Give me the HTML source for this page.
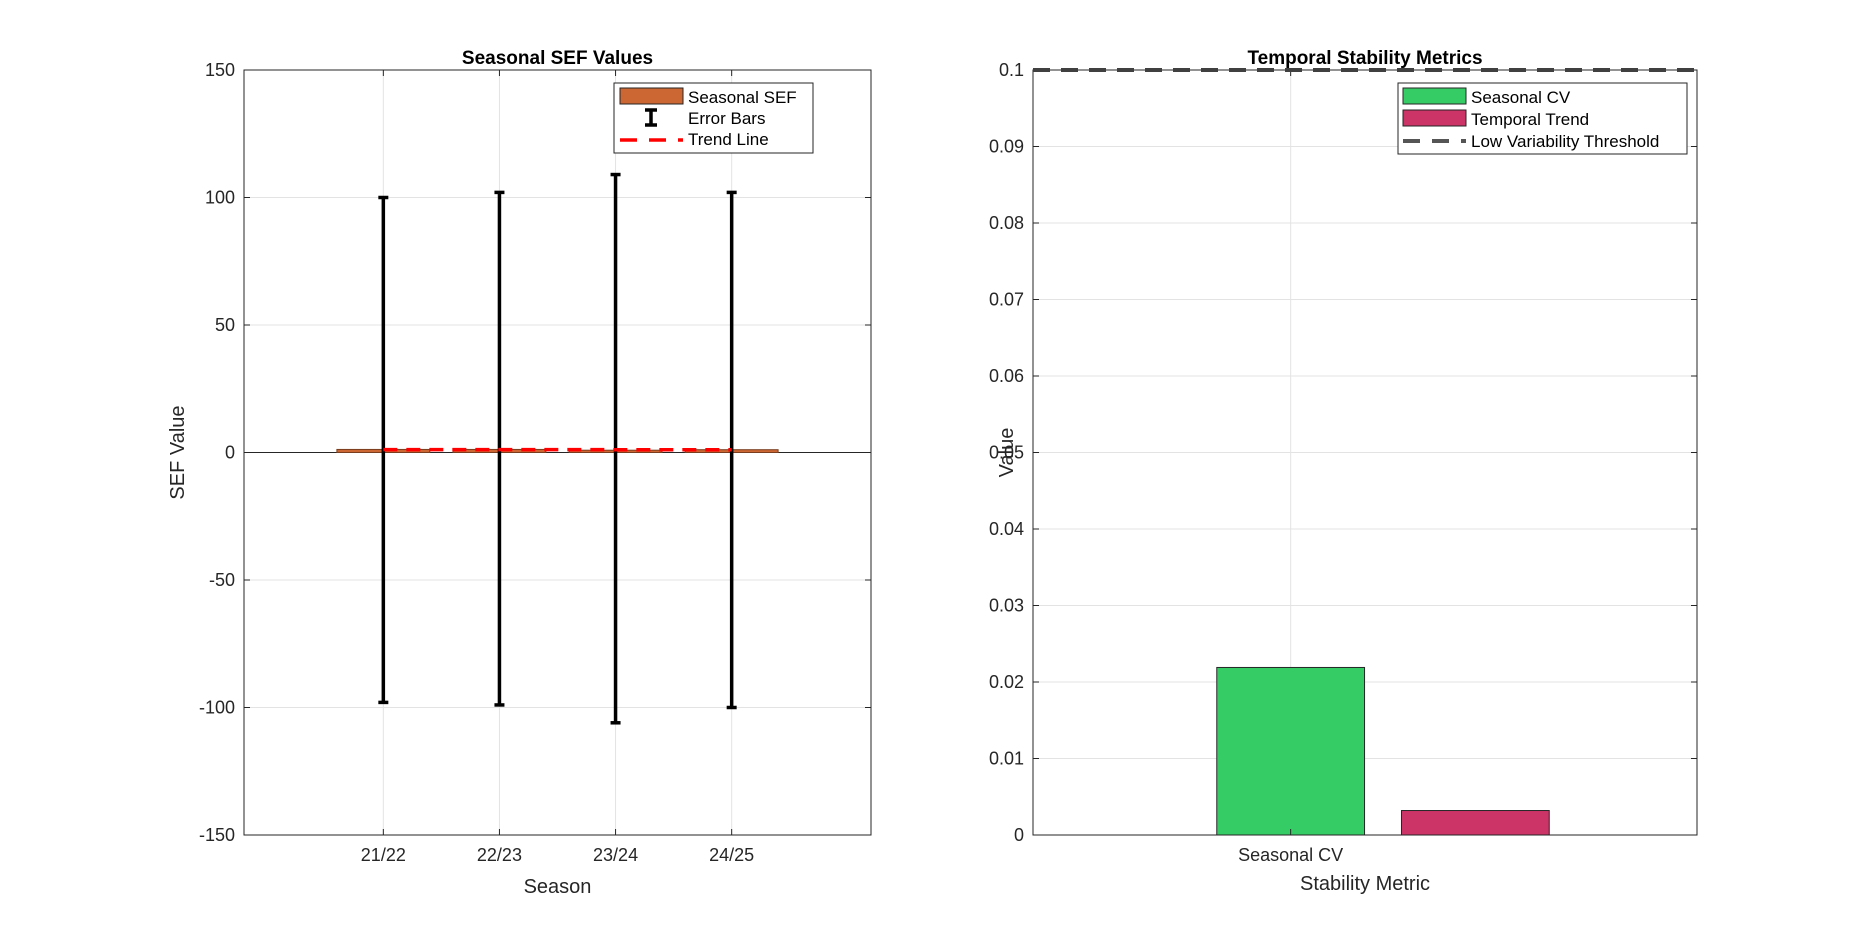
<!DOCTYPE html>
<html><head><meta charset="utf-8"><style>
html,body{margin:0;padding:0;background:#fff;}
svg{display:block;font-family:"Liberation Sans",Arial,sans-serif;}
</style></head><body>
<svg id="fig" width="1875" height="938" viewBox="0 0 1875 938"></svg>
<script>
// Left chart data
const seasons = ["21/22","22/23","23/24","24/25"];
const sefValues = [1.2, 1.2, 0.9, 1.1];
const errUpper = [100, 102, 109, 102];
const errLower = [-98, -99, -106, -100];
const trendValues = [1.15, 1.15, 1.1, 1.1];
const leftYTicks = [-150,-100,-50,0,50,100,150];
// Right chart data
const metricNames = ["Seasonal CV","Temporal Trend"];
const metricValues = [0.0219, 0.0032];
const metricColors = ["#35cc66","#cc3366"];
const threshold = 0.1;
const rightYTicks = [0,0.01,0.02,0.03,0.04,0.05,0.06,0.07,0.08,0.09,0.1];

const NS="http://www.w3.org/2000/svg";
const svg=document.getElementById('fig');
function el(tag,attrs,parent,text){const e=document.createElementNS(NS,tag);for(const k in attrs)e.setAttribute(k,attrs[k]);if(text!==undefined)e.textContent=text;(parent||svg).appendChild(e);return e;}
const FS=18;

// ---------- Left axes ----------
const L={x0:244,x1:871,y0:70,y1:835};
const lx=v=>L.x0+(v-(-0.2))/(5.4)*(L.x1-L.x0);
const ly=v=>L.y1-(v+150)/300*(L.y1-L.y0);
const gL=el('g',{});


el('rect',{x:L.x0,y:L.y0,width:L.x1-L.x0,height:L.y1-L.y0,fill:'#fff'},gL);
leftYTicks.forEach(t=>{
  const y=ly(t);
  el('line',{x1:L.x0,x2:L.x1,y1:y,y2:y,stroke:'#e3e3e3','stroke-width':1},gL);
  el('line',{x1:L.x0,x2:L.x0+6,y1:y,y2:y,stroke:'#262626'},gL);
  el('line',{x1:L.x1-6,x2:L.x1,y1:y,y2:y,stroke:'#262626'},gL);
  const tx=el('text',{x:L.x0-9,y:y+6,'text-anchor':'end','font-size':FS,fill:'#262626'},gL,String(t));
  
  
});
seasons.forEach((s,i)=>{
  const x=lx(i+1);
  el('line',{x1:x,x2:x,y1:L.y0,y2:L.y1,stroke:'#e3e3e3'},gL);
  el('line',{x1:x,x2:x,y1:L.y1,y2:L.y1-6,stroke:'#262626'},gL);
  el('line',{x1:x,x2:x,y1:L.y0,y2:L.y0+6,stroke:'#262626'},gL);
  const tx=el('text',{x:x,y:L.y1+26,'text-anchor':'middle','font-size':FS,fill:'#262626'},gL,s);
  
  
});
el('line',{x1:L.x0,x2:L.x1,y1:ly(0),y2:ly(0),stroke:'#262626','stroke-width':1},gL);
sefValues.forEach((v,i)=>{
  const xa=lx(i+1-0.4),xb=lx(i+1+0.4);
  const r=el('rect',{x:xa,y:Math.min(ly(v),ly(0)),width:xb-xa,height:Math.max(Math.abs(ly(0)-ly(v)),1.5),fill:'#cc6633',stroke:'#7a3d1e','stroke-width':1},gL);
  
  
});
seasons.forEach((s,i)=>{
  const x=lx(i+1);
  const g=el('g',{},gL);
  
  
  el('line',{x1:x,x2:x,y1:ly(errUpper[i]),y2:ly(errLower[i]),stroke:'#000','stroke-width':3.5},g);
  el('line',{x1:x-5,x2:x+5,y1:ly(errUpper[i]),y2:ly(errUpper[i]),stroke:'#000','stroke-width':3.5},g);
  el('line',{x1:x-5,x2:x+5,y1:ly(errLower[i]),y2:ly(errLower[i]),stroke:'#000','stroke-width':3.5},g);
});
const tp=trendValues.map((v,i)=>lx(i+1)+','+ly(v)).join(' ');
const tl=el('polyline',{points:tp,fill:'none',stroke:'#ff0000','stroke-width':3.5,'stroke-dasharray':'14,9'},gL);


el('rect',{x:L.x0,y:L.y0,width:L.x1-L.x0,height:L.y1-L.y0,fill:'none',stroke:'#262626','stroke-width':1},gL);
const t1=el('text',{x:(L.x0+L.x1)/2,y:L.y0-6,'text-anchor':'middle','font-size':19,'font-weight':'bold',fill:'#000'},gL,'Seasonal SEF Values');

const xl1=el('text',{x:(L.x0+L.x1)/2,y:893,'text-anchor':'middle','font-size':20,fill:'#262626'},gL,'Season');

const yl1=el('text',{x:0,y:0,'text-anchor':'middle','font-size':20,fill:'#262626',transform:`translate(184,${(L.y0+L.y1)/2}) rotate(-90)`},gL,'SEF Value');

const lg=el('g',{},gL);


el('rect',{x:614,y:83,width:199,height:70,fill:'#fff',stroke:'#262626','stroke-width':1},lg);
el('rect',{x:620,y:88,width:63,height:16,fill:'#cc6633',stroke:'#262626'},lg);
el('text',{x:688,y:103,'font-size':17,fill:'#000'},lg,'Seasonal SEF');
el('line',{x1:651,x2:651,y1:110,y2:125,stroke:'#000','stroke-width':3.5},lg);
el('line',{x1:645,x2:657,y1:110,y2:110,stroke:'#000','stroke-width':3.5},lg);
el('line',{x1:645,x2:657,y1:125,y2:125,stroke:'#000','stroke-width':3.5},lg);
el('text',{x:688,y:124,'font-size':17,fill:'#000'},lg,'Error Bars');
el('line',{x1:620,x2:683,y1:140,y2:140,stroke:'#ff0000','stroke-width':3.5,'stroke-dasharray':'17,12'},lg);
el('text',{x:688,y:145,'font-size':17,fill:'#000'},lg,'Trend Line');

// ---------- Right axes ----------
const R={x0:1033,x1:1697,y0:70,y1:835};
const xMinR=-0.395, xMaxR=3.2;
const rx=v=>R.x0+(v-xMinR)/(xMaxR-xMinR)*(R.x1-R.x0);
const ry=v=>R.y1-v/0.1*(R.y1-R.y0);
const gR=el('g',{});


el('rect',{x:R.x0,y:R.y0,width:R.x1-R.x0,height:R.y1-R.y0,fill:'#fff'},gR);
rightYTicks.forEach(t=>{
  const y=ry(t);
  el('line',{x1:R.x0,x2:R.x1,y1:y,y2:y,stroke:'#e3e3e3'},gR);
  el('line',{x1:R.x0,x2:R.x0+6,y1:y,y2:y,stroke:'#262626'},gR);
  el('line',{x1:R.x1-6,x2:R.x1,y1:y,y2:y,stroke:'#262626'},gR);
  const tx=el('text',{x:R.x0-9,y:y+6,'text-anchor':'end','font-size':FS,fill:'#262626'},gR,String(t));
  
  
});
{
  const x=rx(1);
  el('line',{x1:x,x2:x,y1:R.y0,y2:R.y1,stroke:'#e3e3e3'},gR);
  el('line',{x1:x,x2:x,y1:R.y0,y2:R.y0+6,stroke:'#262626'},gR);
}
metricValues.forEach((v,i)=>{
  const xa=rx(i+1-0.4),xb=rx(i+1+0.4);
  const r=el('rect',{x:xa,y:ry(v),width:xb-xa,height:ry(0)-ry(v),fill:metricColors[i],stroke:'#262626','stroke-width':1},gR);
  
  
});
{
  const x=rx(1);
  el('line',{x1:x,x2:x,y1:R.y1,y2:R.y1-6,stroke:'#262626'},gR);
  const tx=el('text',{x:x,y:R.y1+26,'text-anchor':'middle','font-size':FS,fill:'#262626'},gR,'Seasonal CV');
  
  
}
el('rect',{x:R.x0,y:R.y0,width:R.x1-R.x0,height:R.y1-R.y0,fill:'none',stroke:'#262626','stroke-width':1},gR);
const th=el('line',{x1:R.x0,x2:R.x1,y1:ry(threshold),y2:ry(threshold),stroke:'#404040','stroke-width':4,'stroke-dasharray':'17,11'},gR);

const t2=el('text',{x:(R.x0+R.x1)/2,y:R.y0-6,'text-anchor':'middle','font-size':19,'font-weight':'bold',fill:'#000'},gR,'Temporal Stability Metrics');

const xl2=el('text',{x:(R.x0+R.x1)/2,y:890,'text-anchor':'middle','font-size':20,fill:'#262626'},gR,'Stability Metric');

const yl2=el('text',{x:0,y:0,'text-anchor':'middle','font-size':20,fill:'#262626',transform:`translate(1013,${(R.y0+R.y1)/2}) rotate(-90)`},gR,'Value');

const rg=el('g',{},gR);


el('rect',{x:1398,y:83,width:289,height:71,fill:'#fff',stroke:'#262626','stroke-width':1},rg);
el('rect',{x:1403,y:88,width:63,height:16,fill:metricColors[0],stroke:'#262626'},rg);
el('text',{x:1471,y:103,'font-size':17,fill:'#000'},rg,'Seasonal CV');
el('rect',{x:1403,y:110,width:63,height:16,fill:metricColors[1],stroke:'#262626'},rg);
el('text',{x:1471,y:125,'font-size':17,fill:'#000'},rg,'Temporal Trend');
el('line',{x1:1403,x2:1466,y1:141,y2:141,stroke:'#555','stroke-width':4,'stroke-dasharray':'17,12'},rg);
el('text',{x:1471,y:147,'font-size':17,fill:'#000'},rg,'Low Variability Threshold');
</script>
</body></html>
